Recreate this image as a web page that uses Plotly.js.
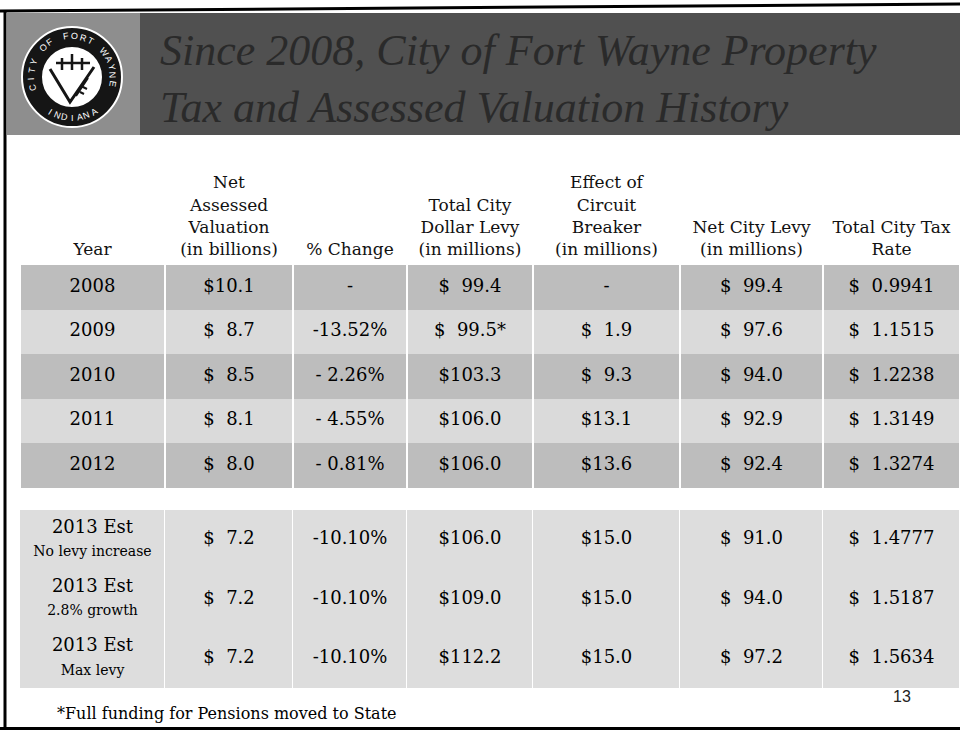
<!DOCTYPE html>
<html><head><meta charset="utf-8">
<script src="https://cdn.plot.ly/plotly-3.0.1.min.js"></script>
<style>html,body{margin:0;padding:0;background:#fff}#chart{width:960px;height:732px}</style>
</head><body><div id="chart"></div>
<script>
// ---------------- data ----------------
const titleLines = ['Since 2008, City of Fort Wayne Property', 'Tax and Assessed Valuation History'];
const columnHeaders = ['Year', 'Net<br>Assessed<br>Valuation<br>(in billions)', '% Change',
  'Total City<br>Dollar Levy<br>(in millions)', 'Effect of<br>Circuit<br>Breaker<br>(in millions)',
  'Net City Levy<br>(in millions)', 'Total City Tax<br>Rate'];

const years = ['2008', '2009', '2010', '2011', '2012'];
const netAssessed = [10.1, 8.7, 8.5, 8.1, 8.0];
const pctChange = [null, -13.52, -2.26, -4.55, -0.81];
const cityLevy = [99.4, 99.5, 103.3, 106.0, 106.0];
const cityLevyNote = ['', '*', '', '', ''];
const circuitBreaker = [null, 1.9, 9.3, 13.1, 13.6];
const netCityLevy = [99.4, 97.6, 94.0, 92.9, 92.4];
const taxRate = [0.9941, 1.1515, 1.2238, 1.3149, 1.3274];

const estLabel = ['2013 Est', '2013 Est', '2013 Est'];
const estScenario = ['No levy increase', '2.8% growth', 'Max levy'];
const estNetAssessed = [7.2, 7.2, 7.2];
const estPctChange = [-10.10, -10.10, -10.10];
const estCityLevy = [106.0, 109.0, 112.2];
const estCircuitBreaker = [15.0, 15.0, 15.0];
const estNetCityLevy = [91.0, 94.0, 97.2];
const estTaxRate = [1.4777, 1.5187, 1.5634];

const footnote = '*Full funding for Pensions moved to State';
const pageNumber = '13';
const sealTop = 'CITY OF FORT WAYNE';
const sealBottom = 'INDIANA';

// ---------------- layout constants ----------------
const colEdges = [20, 165, 293, 407, 533, 680, 823, 960];
const histEdges = [265, 309.5, 354, 398.5, 443, 487.5];
const estEdges = [510, 569.5, 629, 688];
const histShade = [1, 0, 1, 0, 1];
const serif = 'DejaVu Serif';
const ink = '#000000';

const mid = (e) => e.slice(0, -1).map((v, i) => (v + e[i + 1]) / 2);
const colC = mid(colEdges);
const histC = mid(histEdges);
const estC = mid(estEdges);

const FS = '\u2007';
function money(v, dec, intWidth, note) {
  if (v == null) return '-';
  const s = v.toFixed(dec);
  const n = s.split('.')[0].length;
  return '$' + FS.repeat(Math.max(0, intWidth - n)) + s + (note || '');
}
function pct(v) {
  if (v == null) return '-';
  const a = Math.abs(v);
  return (v < 0 ? '-' : '') + (a < 10 ? '\u00a0' : '') + a.toFixed(2) + '%';
}

function rowTexts(label, nav, pc, lv, lvNote, cb, nl, tr) {
  return [label, money(nav, 1, 2), pct(pc), money(lv, 1, 3, lvNote),
          money(cb, 1, 2), money(nl, 1, 3), money(tr, 4, 2)];
}

const traces = [];
const shadeScale = [[0, '#dadada'], [0.5, '#dddddd'], [1, '#bdbdbd']];

// shading cells
traces.push({
  type: 'heatmap', x: colEdges, y: histEdges,
  z: histShade.map(s => colC.map(() => s)),
  zmin: 0, zmax: 1, showscale: false, hoverinfo: 'skip', xgap: 2, ygap: 0,
  colorscale: shadeScale
});
traces.push({
  type: 'heatmap', x: colEdges, y: estEdges,
  z: estC.map(() => colC.map(() => 0.5)),
  zmin: 0, zmax: 1, showscale: false, hoverinfo: 'skip', xgap: 1, ygap: 0,
  colorscale: shadeScale
});

// header
traces.push({
  type: 'scatter', mode: 'text', x: colC, y: colC.map(() => histEdges[0] - 6),
  text: columnHeaders, textposition: 'top center', hoverinfo: 'skip',
  textfont: {family: serif, size: 17, color: '#111111'}
});

// historical rows
{
  const xs = [], ys = [], ts = [];
  years.forEach((yr, i) => {
    const row = rowTexts(yr, netAssessed[i], pctChange[i], cityLevy[i], cityLevyNote[i],
                         circuitBreaker[i], netCityLevy[i], taxRate[i]);
    row.forEach((t, c) => { xs.push(colC[c]); ys.push(histC[i]); ts.push(t); });
  });
  traces.push({type: 'scatter', mode: 'text', x: xs, y: ys, text: ts,
    textposition: 'middle center', hoverinfo: 'skip',
    textfont: {family: serif, size: 18, color: ink}});
}
// estimate rows
{
  const xs = [], ys = [], ts = [];
  estLabel.forEach((lb, i) => {
    const label = lb + '<br><span style="font-size:14px">' + estScenario[i] + '</span>';
    const row = rowTexts(label, estNetAssessed[i], estPctChange[i], estCityLevy[i], '',
                         estCircuitBreaker[i], estNetCityLevy[i], estTaxRate[i]);
    row.forEach((t, c) => { xs.push(colC[c]); ys.push(estC[i]); ts.push(t); });
  });
  traces.push({type: 'scatter', mode: 'text', x: xs, y: ys, text: ts,
    textposition: 'middle center', hoverinfo: 'skip',
    textfont: {family: serif, size: 18, color: ink}});
}

// seal decoration
const sealC = [72, 77];
const shapes = [
  {type: 'rect', xref: 'x', yref: 'y', x0: 7, x1: 960, y0: 13, y1: 135, fillcolor: '#505050', line: {width: 0}, layer: 'below'},
  {type: 'rect', xref: 'x', yref: 'y', x0: 7, x1: 140, y0: 13, y1: 135, fillcolor: '#8e8e8e', line: {width: 0}, layer: 'below'},
  {type: 'circle', xref: 'x', yref: 'y', x0: sealC[0] - 50, x1: sealC[0] + 50, y0: sealC[1] - 50, y1: sealC[1] + 50, fillcolor: '#151515', line: {color: '#ffffff', width: 2}},
  {type: 'circle', xref: 'x', yref: 'y', x0: sealC[0] - 31, x1: sealC[0] + 31, y0: sealC[1] - 31, y1: sealC[1] + 31, fillcolor: '#ffffff', line: {color: '#151515', width: 2}},
  {type: 'path', xref: 'x', yref: 'y', path: 'M 50 69 L 70 102 L 94 67', line: {color: '#151515', width: 3}},
  {type: 'path', xref: 'x', yref: 'y', path: 'M 56 63 L 90 63 M 62 58 L 62 70 M 72 54 L 72 70 M 82 58 L 82 70', line: {color: '#151515', width: 2.5}},
  {type: 'path', xref: 'x', yref: 'y', path: 'M 76 96 L 88 78 M 80 92 L 84 94 M 83 87 L 87 89', line: {color: '#151515', width: 2}},
  // frame
  {type: 'line', xref: 'x', yref: 'y', x0: 0, x1: 960, y0: 11, y1: 4, line: {color: '#000', width: 3}},
  {type: 'line', xref: 'x', yref: 'y', x0: 5, x1: 5, y0: 10, y1: 730, line: {color: '#000', width: 3}},
  {type: 'line', xref: 'x', yref: 'y', x0: 0, x1: 960, y0: 728.5, y1: 728.5, line: {color: '#000', width: 3}}
];

const annotations = [];
function arcText(str, r, a0, a1, up) {
  const n = str.length;
  for (let i = 0; i < n; i++) {
    const th = a0 + (a1 - a0) * (i / (n - 1));
    const rad = th * Math.PI / 180;
    annotations.push({xref: 'x', yref: 'y', x: sealC[0] + r * Math.cos(rad), y: sealC[1] + r * Math.sin(rad),
      text: str[i], showarrow: false, textangle: up ? th + 90 : th - 90,
      font: {family: 'Liberation Sans', size: 9, color: '#ffffff'}, xanchor: 'center', yanchor: 'middle'});
  }
}
arcText(sealTop, 41, 165, 370, true);
arcText(sealBottom, 41, 122, 58, false);

annotations.push({xref: 'x', yref: 'y', x: 55, y: 713, xanchor: 'left', yanchor: 'middle', showarrow: false,
  text: footnote, font: {family: serif, size: 16, color: ink}});
annotations.push({xref: 'x', yref: 'y', x: 902, y: 696, xanchor: 'center', yanchor: 'middle', showarrow: false,
  text: pageNumber, font: {family: 'Liberation Sans', size: 16, color: '#222'}});

const layout = {
  width: 960, height: 732, margin: {l: 0, r: 0, t: 0, b: 0},
  paper_bgcolor: '#ffffff', plot_bgcolor: '#ffffff', showlegend: false,
  title: {text: titleLines.join('<br>'), x: 160 / 960, xanchor: 'left', xref: 'paper',
    y: 1 - 65 / 732, yanchor: 'top', yref: 'container',
    font: {family: 'Liberation Serif', size: 44, style: 'italic', color: '#2a2a2a'}},
  xaxis: {range: [0, 960], visible: false, fixedrange: true},
  yaxis: {range: [732, 0], visible: false, fixedrange: true},
  shapes: shapes, annotations: annotations
};

Plotly.newPlot('chart', traces, layout, {staticPlot: true, displayModeBar: false});
</script>
</body></html>
